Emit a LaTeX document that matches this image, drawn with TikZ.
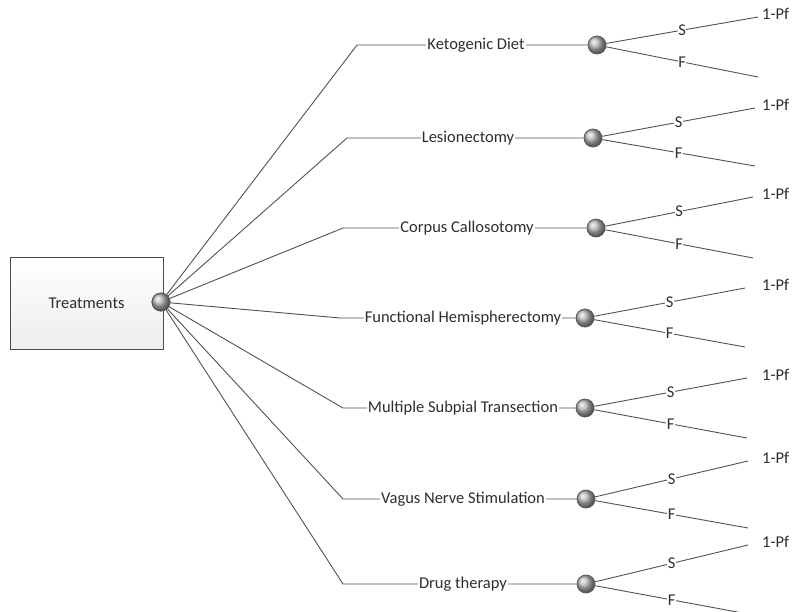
\documentclass[tikz,border=0pt]{standalone}
\usepackage{fontspec}
\setmainfont{Carlito}
\usepackage{tikz}
\tikzset{
    branch/.style={draw=black!68, line width=0.9pt},
    chance/.style={circle, draw=black!65, line width=0.8pt, minimum size=18pt, inner sep=0pt, shading=ball, ball color=gray!55},
    lbl/.style={fill=white, inner sep=1pt, text=black!82, font=\fontsize{16.5}{18}\selectfont},
    outcome/.style={fill=white, inner sep=0.4pt, text=black!82, font=\fontsize{16.5}{18}\selectfont},
    treatbox/.style={draw=black!70, line width=0.9pt, minimum width=153pt, minimum height=92pt, top color=white, bottom color=gray!14, text=black!82, font=\fontsize{16.5}{18}\selectfont}
}
% #1 id, #2 turn x, #3 y, #4 label x, #5 label, #6 chance x, #7 end x, #8 S end y, #9 F end y
\newcommand{\option}[9]{%
    \coordinate (#1-turn) at (#2, #3);%
    \node[chance] (#1) at (#6, #3) {};%
    \coordinate (#1-s) at (#7, #8);%
    \coordinate (#1-f) at (#7, #9);%
    \draw[branch] (root) -- (#1-turn) -- (#1);%
    \node[lbl] (#1-name) at (#4, #3) {#5};%
    \draw[branch] (#1) -- node[outcome] (#1-sl) {S} (#1-s);%
    \draw[branch] (#1) -- node[outcome] (#1-fl) {F} (#1-f);%
    \node[lbl, anchor=west, inner sep=0pt] (#1-pf) at (762, {#8-3}) {1-Pf};%
}

\begin{document}
\begin{tikzpicture}[x=1pt, y=-1pt]
        \useasboundingbox (0, 0) rectangle (792, 611);
        \begin{scope}
        \clip (0, 0) rectangle (792, 611);

        % Decision box and its root
        \node[treatbox] (treat) at (86.5, 303) {Treatments};
        \node[chance] (root) at (161, 302) {};

        % --- Treatment options ---
        \option{keto}{357}{45}{476}{Ketogenic Diet}{597}{758}{17}{77}
        \option{lesion}{347}{138}{468}{Lesionectomy}{593}{755}{108}{166}
        \option{corpus}{343}{228}{467}{Corpus Callosotomy}{596}{753}{197}{258}
        \option{hemi}{340}{318}{463}{Functional Hemispherectomy}{585}{745}{288}{347}
        \option{subpial}{343}{408}{463}{Multiple Subpial Transection}{585}{747}{378}{438}
        \option{vagus}{343}{499}{463}{Vagus Nerve Stimulation}{586}{748}{461}{528}
        \option{drug}{343}{584}{463}{Drug therapy}{586}{748}{545}{614}

        % Root drawn again on top of the lines
        \node[chance] at (root) {};
        \end{scope}
    \end{tikzpicture}
\end{document}
